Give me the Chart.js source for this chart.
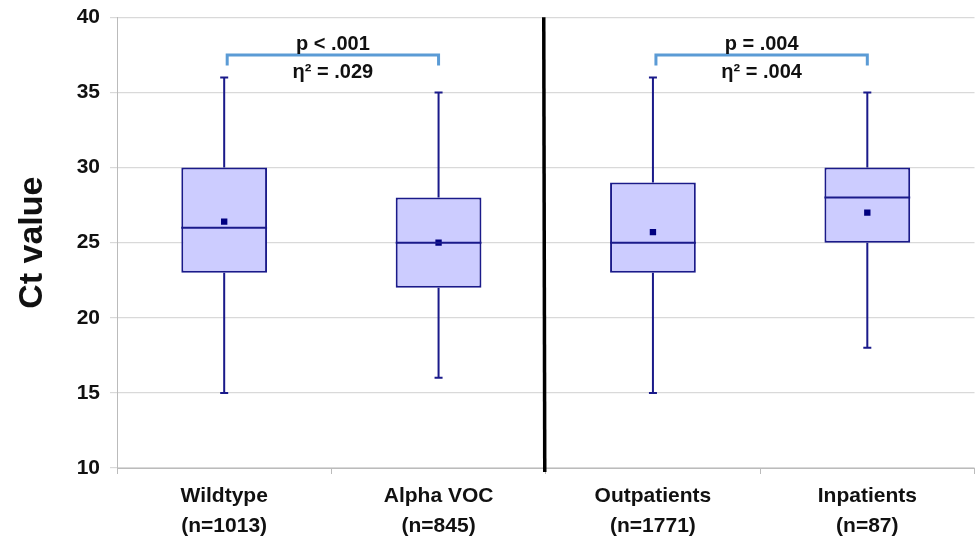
<!DOCTYPE html>
<html>
<head>
<meta charset="utf-8">
<script src="https://cdn.jsdelivr.net/npm/chart.js@4.4.0/dist/chart.umd.min.js"></script>
<style>
  html, body { margin: 0; padding: 0; background: #fff; }
  #wrap { width: 979px; height: 540px; }
</style>
</head>
<body>
<div id="wrap"><canvas id="myChart" width="979" height="540"></canvas></div>
<script>
// groups and box plot stats (Ct values)
var groups = [["Wildtype", "(n=1013)"], ["Alpha VOC", "(n=845)"], ["Outpatients", "(n=1771)"], ["Inpatients", "(n=87)"]];
var mins    = [15, 16, 15, 18];
var q1s     = [23, 22, 23, 25];
var medians = [26, 25, 25, 28];
var q3s     = [30, 28, 29, 30];
var maxs    = [36, 35, 36, 35];
var means   = [26.4, 25.0, 25.7, 27.0];

var yTicks = [10, 15, 20, 25, 30, 35, 40];

// comparison brackets: [from group, to group, line 1, line 2]
var brackets = [
    [0, 1, "p < .001", "η² = .029"],
    [2, 3, "p = .004", "η² = .004"]
];

var navy = "#1a1a8a";
var boxData = q1s.map(function(q, i){ return [q, q3s[i]]; });

var boxExtras = {
    id: "boxExtras",
    afterDatasetsDraw: function(chart){
        var ctx = chart.ctx;
        var x = chart.scales.x, y = chart.scales.y;
        var meta = chart.getDatasetMeta(0);
        ctx.save();
        ctx.strokeStyle = navy;
        ctx.lineWidth = 2;
        for(let i = 0; i < groups.length; i++){
            var cx = x.getPixelForValue(i);
            var half = meta.data[i].width / 2;
            ctx.beginPath();
            // whiskers
            ctx.moveTo(cx, y.getPixelForValue(q3s[i]));
            ctx.lineTo(cx, y.getPixelForValue(maxs[i]));
            ctx.moveTo(cx, y.getPixelForValue(q1s[i]));
            ctx.lineTo(cx, y.getPixelForValue(mins[i]));
            // caps
            ctx.moveTo(cx - 4, y.getPixelForValue(maxs[i]));
            ctx.lineTo(cx + 4, y.getPixelForValue(maxs[i]));
            ctx.moveTo(cx - 4, y.getPixelForValue(mins[i]));
            ctx.lineTo(cx + 4, y.getPixelForValue(mins[i]));
            // median
            ctx.moveTo(cx - half, y.getPixelForValue(medians[i]));
            ctx.lineTo(cx + half, y.getPixelForValue(medians[i]));
            ctx.stroke();
        }
        ctx.restore();
    },
    afterDraw: function(chart){
        var ctx = chart.ctx;
        var x = chart.scales.x, y = chart.scales.y;
        var area = chart.chartArea;
        ctx.save();
        // divider between the two comparisons
        var divX = (x.getPixelForValue(1) + x.getPixelForValue(2)) / 2 - 2;
        ctx.strokeStyle = "#000";
        ctx.lineWidth = 3.5;
        ctx.beginPath();
        ctx.moveTo(divX, area.top);
        ctx.lineTo(divX + 1, area.bottom + 4);
        ctx.stroke();

        brackets.forEach(function(b){
            var x1 = x.getPixelForValue(b[0]) + 3;
            var x2 = x.getPixelForValue(b[1]);
            var top = y.getPixelForValue(37.5);
            var leg = y.getPixelForValue(36.8);
            ctx.strokeStyle = "#5b9bd5";
            ctx.lineWidth = 3;
            ctx.beginPath();
            ctx.moveTo(x1, leg);
            ctx.lineTo(x1, top);
            ctx.lineTo(x2, top);
            ctx.lineTo(x2, leg);
            ctx.stroke();
            ctx.fillStyle = "#111";
            ctx.font = "bold 20px 'Liberation Sans', Arial, sans-serif";
            ctx.textAlign = "center";
            ctx.textBaseline = "middle";
            ctx.fillText(b[2], (x1 + x2) / 2, y.getPixelForValue(38.2));
            ctx.fillText(b[3], (x1 + x2) / 2, y.getPixelForValue(36.3));
        });
        ctx.restore();
    }
};

var ctx = document.getElementById("myChart").getContext("2d");
var myChart = new Chart(ctx, {
    data: {
        labels: groups,
        datasets: [{
            type: "bar",
            label: "IQR",
            data: boxData,
            backgroundColor: "#ccccff",
            borderColor: navy,
            borderWidth: 2,
            borderSkipped: false,
            categoryPercentage: 1,
            barPercentage: 0.4,
            order: 2
        }, {
            type: "line",
            label: "Mean",
            data: means,
            showLine: false,
            pointStyle: "rect",
            pointRadius: 4.5,
            pointBackgroundColor: "#000080",
            pointBorderColor: "#000080",
            pointBorderWidth: 0,
            order: 1
        }]
    },
    options: {
        responsive: false,
        animation: false,
        layout: { padding: { top: 0, right: 2, left: 0, bottom: 0 } },
        plugins: {
            legend: { display: false },
            tooltip: { enabled: false }
        },
        scales: {
            x: {
                offset: true,
                grid: {
                    display: true,
                    offset: true,
                    drawOnChartArea: false,
                    color: "#bbb",
                    tickLength: 6
                },
                border: { color: "#bbb", width: 1 },
                ticks: {
                    color: "#111",
                    font: { family: "'Liberation Sans', Arial, sans-serif", size: 21, weight: "bold", lineHeight: 1.4 },
                    padding: 8,
                    maxRotation: 0
                },
                afterFit: function(scale){ scale.height = 72; }
            },
            y: {
                min: 10,
                max: 40,
                afterBuildTicks: function(scale){
                    scale.ticks = yTicks.map(function(v){ return { value: v }; });
                },
                grid: { color: "#d9d9d9", lineWidth: 1.2, tickLength: 7 },
                border: { color: "#bbb", width: 1 },
                ticks: {
                    color: "#111",
                    font: { family: "'Liberation Sans', Arial, sans-serif", size: 21, weight: "bold", lineHeight: 0.7 },
                    padding: 10
                },
                title: {
                    display: true,
                    text: "Ct value",
                    color: "#111",
                    font: { family: "'Liberation Sans', Arial, sans-serif", size: 34, weight: "bold" },
                    padding: { top: 12, bottom: 10 }
                },
                afterFit: function(scale){ scale.width = 117; }
            }
        }
    },
    plugins: [boxExtras]
});
</script>
</body>
</html>
